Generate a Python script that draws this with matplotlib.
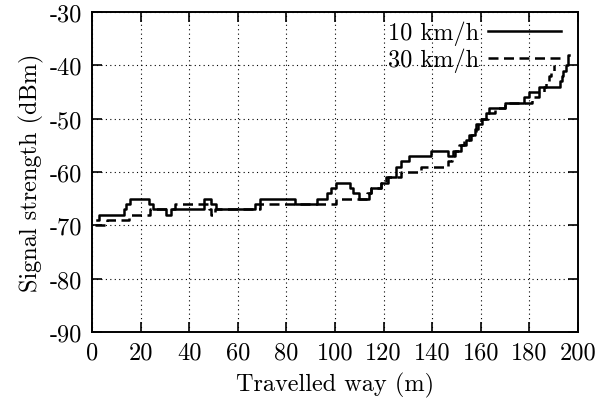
import matplotlib
matplotlib.use('Agg')
from matplotlib import pyplot as plt

# signal strength along the track, step data (position in m, level in dBm)
way_10 = [2, 3, 13, 14, 15.5, 23.5, 25, 30.5, 32.5, 46, 49, 51, 67, 69, 83.5, 92.5,
          96.5, 98.5, 100.5, 106, 107.5, 110, 114, 115, 119, 122, 125, 127, 130.5,
          139.5, 146.5, 148.5, 152, 154, 156, 157.5, 159, 160.5, 162, 163.5, 167,
          170, 178, 180, 184, 192.5, 193.5, 194, 195, 196, 196.5]
sig_10 = [-69, -68, -67, -66, -65, -66, -67, -68, -67, -65, -66, -67, -66, -65, -66, -65,
          -64, -63, -62, -63, -64, -65, -64, -63, -62, -61, -59, -58, -57,
          -56, -57, -56, -55, -54, -53, -52, -51, -50, -49, -48, -48,
          -47, -46, -45, -44, -43, -42, -41, -40, -38, -38]

way_30 = [1, 6, 15, 24, 34, 48, 49, 50.5, 69, 100.5, 107.5, 113, 115, 119, 121, 124,
          127, 135.5, 146.5, 148, 149.5, 151, 153, 155, 158, 160, 163, 166, 170,
          181, 184, 186, 187, 188, 189, 190]
sig_30 = [-70, -69, -68, -67, -66, -67, -68, -67, -66, -65, -65, -64, -63, -62, -61, -61,
          -60, -59, -58, -57, -56, -55, -54, -53, -51, -50, -49, -48, -47,
          -46, -45, -44, -43, -42, -41, -40]

plt.rcParams['font.family'] = 'cmr10'
plt.rcParams['axes.unicode_minus'] = False
plt.rcParams['font.size'] = 17.5

fig = plt.figure(figsize=(6.02, 4.02), dpi=100)
ax = fig.add_axes([0.153, 0.172, 0.807, 0.796])

ax.step(way_10, sig_10, where='post', color='black', lw=1.8, label='10 km/h')
ax.step(way_30, sig_30, where='post', color='black', lw=1.8, dashes=(4, 2.2),
        label='30 km/h')

ax.set_xlim(0, 200)
ax.set_ylim(-90, -30)
ax.set_xticks(range(0, 201, 20))
ax.set_yticks(range(-90, -29, 10))
ax.grid(True, color='black', linestyle=(0, (1, 3)), linewidth=0.8)
ax.tick_params(direction='in', top=True, right=True, length=7, width=1.2, pad=7)
for s in ax.spines.values():
    s.set_linewidth(1.4)

ax.set_xlabel('Travelled way (m)', labelpad=6)
ax.set_ylabel('Signal strength (dBm)', labelpad=4)

ax.legend(loc='upper right', bbox_to_anchor=(1.0, 1.025), frameon=False,
          markerfirst=False, handlelength=3.0, handletextpad=0.35,
          borderaxespad=0.3, labelspacing=0.1)

fig.savefig('out.png', dpi=100)
